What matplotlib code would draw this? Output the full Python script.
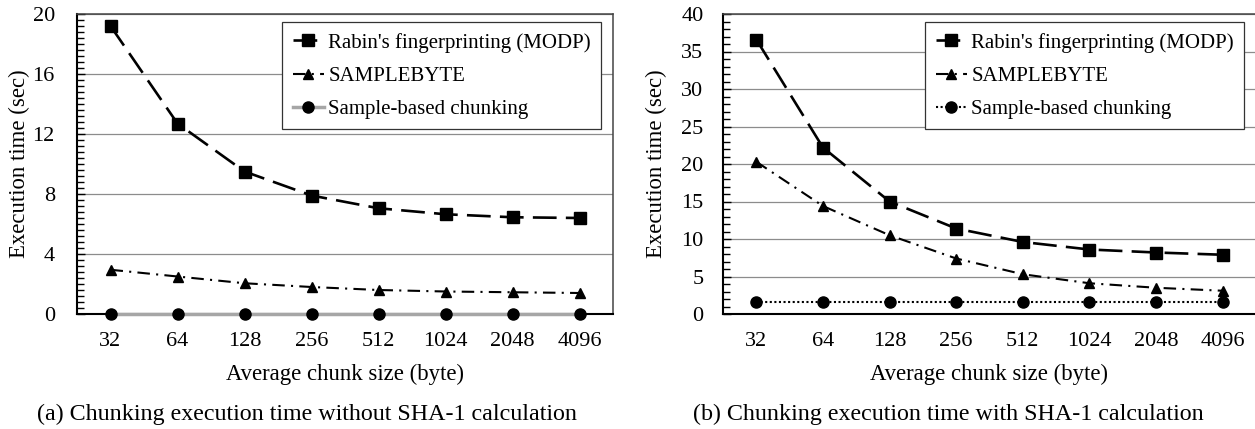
import matplotlib
matplotlib.use('Agg')
import matplotlib.pyplot as plt
from matplotlib.ticker import MultipleLocator

plt.rcParams['font.family'] = ['Liberation Serif', 'DejaVu Serif']
plt.rcParams['font.size'] = 16

sizes = ['32', '64', '128', '256', '512', '1024', '2048', '4096']

# (a) without SHA-1
rabin_a = [19.2, 12.7, 9.5, 7.9, 7.05, 6.65, 6.45, 6.4]
sbyte_a = [2.95, 2.5, 2.05, 1.8, 1.6, 1.5, 1.45, 1.4]
sbc_a = [0, 0, 0, 0, 0, 0, 0, 0]

# (b) with SHA-1
rabin_b = [36.6, 22.2, 15.0, 11.4, 9.6, 8.6, 8.2, 7.9]
sbyte_b = [20.3, 14.4, 10.5, 7.4, 5.3, 4.1, 3.5, 3.1]
sbc_b = [1.55, 1.55, 1.55, 1.55, 1.55, 1.55, 1.55, 1.55]

labels = ["Rabin's fingerprinting (MODP)", 'SAMPLEBYTE', 'Sample-based chunking']

W, H = 1255, 429
fig = plt.figure(figsize=(W / 100, H / 100), dpi=100)
ax1 = fig.add_axes([77 / W, (H - 314) / H, 536 / W, 300 / H])
ax2 = fig.add_axes([723 / W, (H - 314) / H, 533 / W, 300 / H])


def draw(ax, rabin, sbyte, sbc, sbc_style, ymax, major, minor, ylab_x, tickpad):
    x = range(len(sizes))
    ax.plot(x, rabin, color='black', lw=1.9, dashes=(9, 3.5), marker='s', ms=8,
            zorder=4, clip_on=False, label=labels[0])
    ax.plot(x, sbyte, color='black', lw=1.5, dashes=(6, 3, 1, 3), marker='^', ms=7.5,
            zorder=4, clip_on=False, label=labels[1])
    ax.plot(x, sbc, marker='o', ms=8, mfc='black', mec='black', zorder=4,
            clip_on=False, label=labels[2], **sbc_style)
    ax.set_xlim(-0.5, len(sizes) - 0.5)
    ax.set_ylim(0, ymax)
    ax.set_xticks(list(x))
    ax.set_xticklabels(sizes)
    ax.yaxis.set_major_locator(MultipleLocator(major))
    ax.yaxis.set_minor_locator(MultipleLocator(minor))
    ax.tick_params(axis='x', length=0, pad=13)
    ax.tick_params(axis='y', which='major', direction='in', length=6, width=1, pad=tickpad)
    ax.tick_params(axis='y', which='minor', direction='in', length=5, width=1)
    ax.yaxis.grid(True, color='#8c8c8c', lw=0.9)
    ax.set_axisbelow(True)
    for s in ['left', 'bottom']:
        ax.spines[s].set_color('black')
        ax.spines[s].set_linewidth(1.5)
    for s in ['top', 'right']:
        ax.spines[s].set_color('#444444')
        ax.spines[s].set_linewidth(1.1)
    ax.set_xlabel('Average chunk size (byte)', fontsize=16.4)
    ax.xaxis.set_label_coords(0.5, -0.165)
    ax.set_ylabel('Execution time (sec)', fontsize=16.4)
    ax.yaxis.set_label_coords(ylab_x, 0.5)
    leg = ax.legend(loc='upper right', bbox_to_anchor=(0.978, 0.972), fancybox=False,
                    framealpha=1, edgecolor='#333333', handlelength=1.5,
                    handletextpad=0.2, labelspacing=0.65, borderpad=0.5,
                    borderaxespad=0, fontsize=15)
    leg.get_frame().set_linewidth(0.9)


draw(ax1, rabin_a, sbyte_a, sbc_a, dict(color='#a6a6a6', lw=2.5),
     20, 4, 0.4, -0.088, 16)
draw(ax2, rabin_b, sbyte_b, sbc_b, dict(color='black', lw=1.5, dashes=(1, 1.2)),
     40, 5, 1, -0.105, 14)

fig.text(307 / W, 1 - 414 / H, '(a) Chunking execution time without SHA-1 calculation',
         ha='center', va='center', fontsize=17.3)
fig.text(948 / W, 1 - 414 / H, '(b) Chunking execution time with SHA-1 calculation',
         ha='center', va='center', fontsize=17.3)

fig.savefig('out.png', dpi=100)
